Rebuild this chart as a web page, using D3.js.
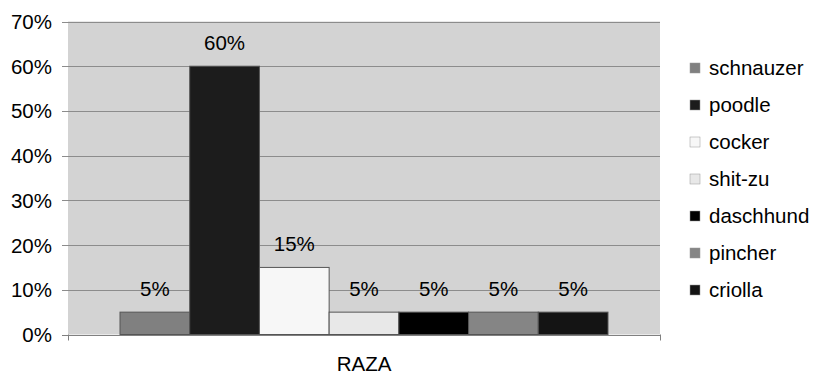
<!DOCTYPE html>
<html>
<head>
<meta charset="utf-8">
<script src="https://cdn.jsdelivr.net/npm/d3@7"></script>
<style>
  html, body { margin: 0; padding: 0; background: #fff; }
  svg { display: block; font-family: Arial, "Liberation Sans", sans-serif; }
</style>
</head>
<body>
<svg id="chart" width="815" height="375"></svg>
<script>
const categories = ["RAZA"];
const breeds = ["schnauzer", "poodle", "cocker", "shit-zu", "daschhund", "pincher", "criolla"];
const values = [5, 60, 15, 5, 5, 5, 5];
const colors = ["#808080", "#1c1c1c", "#f7f7f7", "#e8e8e8", "#000000", "#858585", "#141414"];
const yTicks = [0, 10, 20, 30, 40, 50, 60, 70];

const svg = d3.select("#chart");
const plot = { left: 68, right: 660, top: 21.5, bottom: 334.5 };
const FS = 20.5;

const x0 = d3.scaleBand().domain(categories).range([plot.left, plot.right]).padding(0);
const x1 = d3.scaleBand().domain(breeds).range([0, x0.bandwidth()]).paddingInner(0).paddingOuter(0.746);
const y = d3.scaleLinear().domain([0, 70]).range([plot.bottom, plot.top]);

// background
svg.append("rect")
  .attr("x", plot.left).attr("y", plot.top)
  .attr("width", plot.right - plot.left).attr("height", plot.bottom - plot.top)
  .attr("fill", "#d3d3d3");

// gridlines with left ticks
svg.append("g").selectAll("line").data(yTicks).join("line")
  .attr("x1", plot.left - 6).attr("x2", plot.right)
  .attr("y1", d => Math.round(y(d)) + 0.5).attr("y2", d => Math.round(y(d)) + 0.5)
  .attr("stroke", d => d === 0 ? "#808080" : "#8c8c8c").attr("stroke-width", 1);

svg.append("g").selectAll("text").data(yTicks).join("text")
  .attr("x", 52).attr("y", d => y(d) + 7.5)
  .attr("text-anchor", "end").attr("font-size", FS).attr("fill", "#000")
  .text(d => d + "%");

// bars
const g = svg.append("g").attr("transform", `translate(${x0("RAZA")},0)`);
g.selectAll("rect").data(breeds).join("rect")
  .attr("x", d => x1(d)).attr("width", x1.bandwidth())
  .attr("y", (d, i) => y(values[i])).attr("height", (d, i) => y(0) - y(values[i]))
  .attr("fill", (d, i) => colors[i]).attr("stroke", "#555").attr("stroke-width", 1);

g.selectAll("text").data(breeds).join("text")
  .attr("x", d => x1(d) + x1.bandwidth() / 2)
  .attr("y", (d, i) => y(values[i]) - 16)
  .attr("text-anchor", "middle").attr("font-size", FS).attr("fill", "#000")
  .text((d, i) => values[i] + "%");

// category ticks
svg.append("g").selectAll("line").data([plot.left, plot.right]).join("line")
  .attr("x1", d => d + 0.5).attr("x2", d => d + 0.5)
  .attr("y1", plot.bottom).attr("y2", plot.bottom + 6)
  .attr("stroke", "#808080");

// category label
svg.append("text")
  .attr("x", x0("RAZA") + x0.bandwidth() / 2).attr("y", 371)
  .attr("text-anchor", "middle").attr("font-size", FS).attr("fill", "#000")
  .text(categories[0]);

// legend
const leg = svg.append("g");
const rows = leg.selectAll("g").data(breeds).join("g")
  .attr("transform", (d, i) => `translate(690,${68 + i * 37})`);
rows.append("rect").attr("x", 0).attr("y", -5).attr("width", 10).attr("height", 10)
  .attr("fill", (d, i) => colors[i]).attr("stroke", "#999").attr("stroke-width", 0.5);
rows.append("text").attr("x", 19).attr("y", 7)
  .attr("font-size", FS).attr("fill", "#000").text(d => d);
</script>
</body>
</html>
